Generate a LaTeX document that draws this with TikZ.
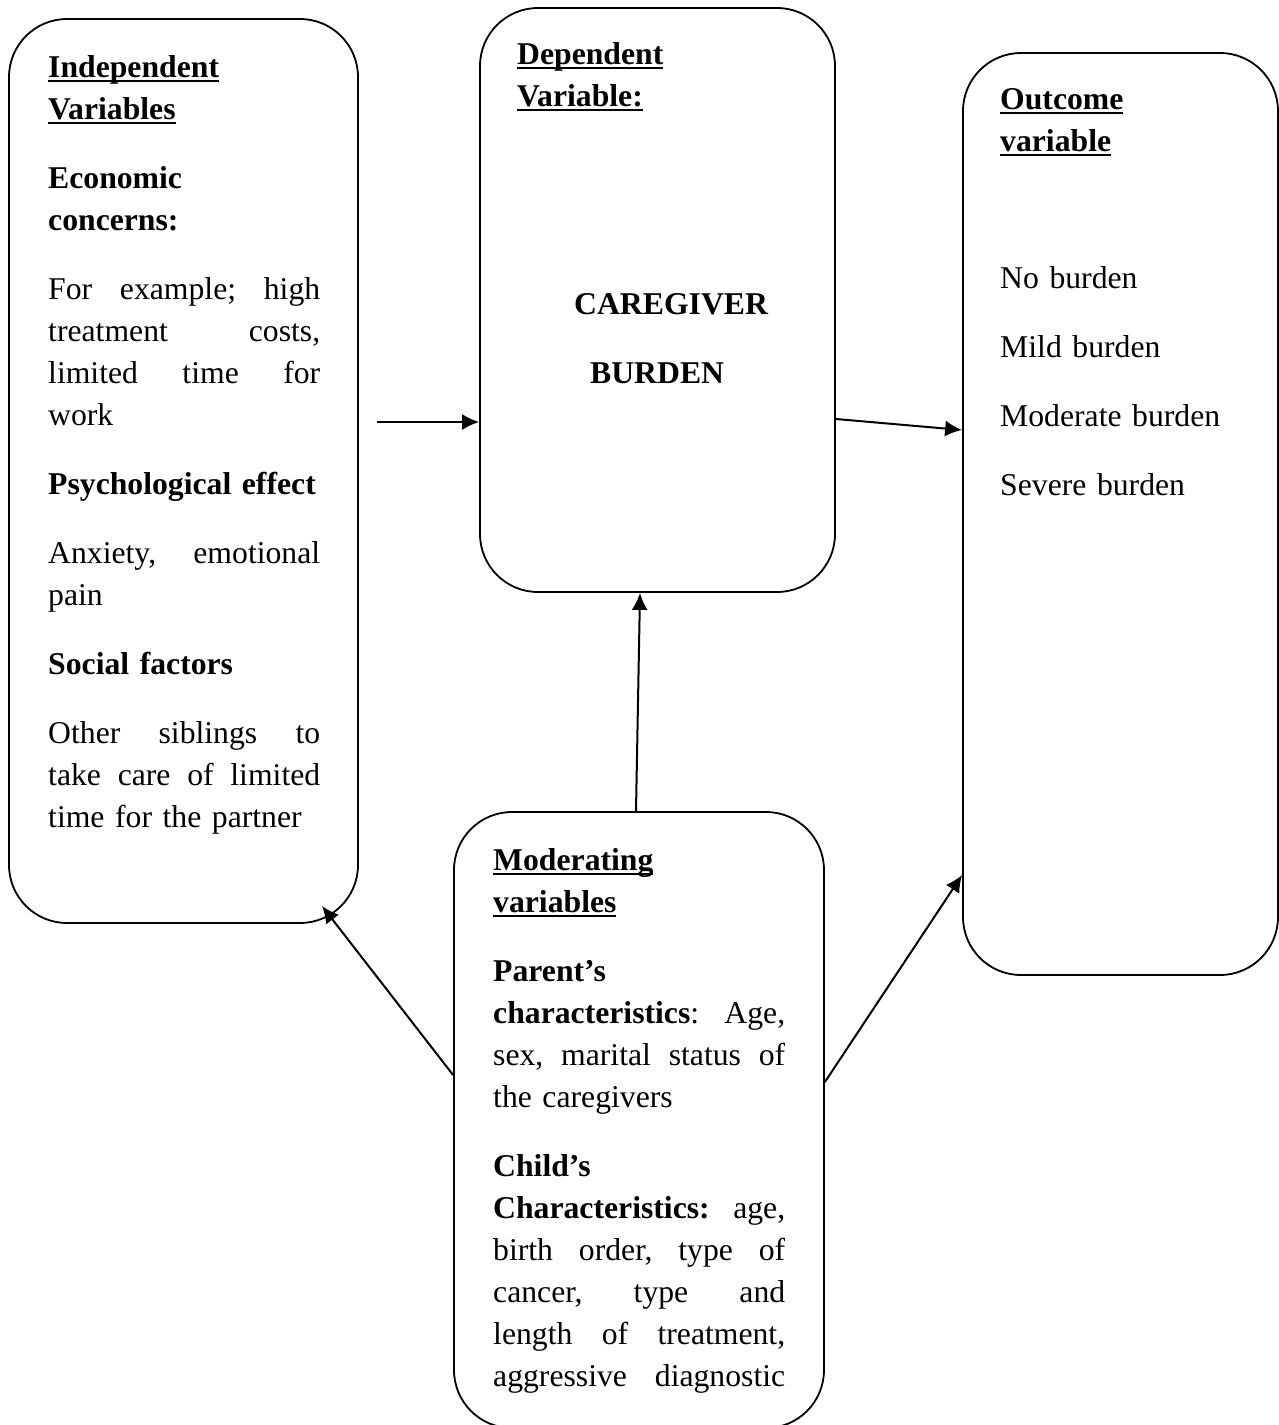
\documentclass[tikz,border=0pt]{standalone}
\usepackage{fontspec}
\setmainfont{Liberation Serif}
\usetikzlibrary{arrows.meta,calc}
\newcommand\uln[1]{\leavevmode\setbox0=\hbox{#1}\rlap{\rule[-5pt]{\wd0}{2.2pt}}\box0}
\newcommand\jl[2]{\leavevmode\makebox[#1][s]{#2}}
\tikzset{
  box/.style={draw=black, line width=1.8pt, rounded corners=58pt, inner sep=0pt},
  txt/.style={inner sep=0pt, anchor=base west, align=left, font=\fontsize{31.7}{42}\selectfont},
  arr/.style={line width=2pt, -{Latex[length=17pt,width=16pt]}}
}
\begin{document}
\begin{tikzpicture}[x=1pt,y=-1pt]
\useasboundingbox (0,0) rectangle (1279,1425);
% boxes
\node[box, minimum width=349pt, minimum height=904pt] (A) at (183.5,471) {};
\node[box, minimum width=355pt, minimum height=584pt] (B) at (657.5,300) {};
\node[box, minimum width=315pt, minimum height=922pt] (C) at (1120.5,514) {};
\node[box, minimum width=370pt, minimum height=616pt] (D) at (639,1120) {};
% texts
\node[txt, text width=272pt] (Atxt) at (48,77) {%
\uln{\textbf{Independent}}\\
\uln{\textbf{Variables}}\\[27pt]
\textbf{Economic}\\
\textbf{concerns:}\\[27pt]
\jl{272pt}{For\hfill example;\hfill high}\\
\jl{272pt}{treatment\hfill costs,}\\
\jl{272pt}{limited\hfill time\hfill for}\\
work\\[27pt]
\textbf{Psychological effect}\\[27pt]
\jl{272pt}{Anxiety,\hfill emotional}\\
pain\\[27pt]
\textbf{Social factors}\\[27pt]
\jl{272pt}{Other\hfill siblings\hfill to}\\
\jl{272pt}{take\hfill care\hfill of\hfill limited}\\
time for the partner};
\node[txt, text width=260pt] (Btitle) at (517,64) {%
\uln{\textbf{Dependent}}\\
\uln{\textbf{Variable:}}};
\node[txt, text width=240pt] (Bmain) at (574,314) {%
\textbf{CAREGIVER}\\[27pt]
\hspace*{16pt}\textbf{BURDEN}};
\node[txt, text width=260pt] (Ctitle) at (1000,109) {%
\uln{\textbf{Outcome}}\\
\uln{\textbf{variable}}};
\node[txt, text width=270pt] (Citems) at (1000,288) {%
No burden\\[27pt]
Mild burden\\[27pt]
Moderate burden\\[27pt]
Severe burden};
\node[txt, text width=292pt] (Dtxt) at (493,870) {%
\uln{\textbf{Moderating}}\\
\uln{\textbf{variables}}\\[27pt]
\textbf{Parent’s}\\
\jl{292pt}{\textbf{characteristics}:\hfill Age,}\\
\jl{292pt}{sex,\hfill marital\hfill status\hfill of}\\
the caregivers\\[27pt]
\textbf{Child’s}\\
\jl{292pt}{\textbf{Characteristics:}\hfill age,}\\
\jl{292pt}{birth\hfill order,\hfill type\hfill of}\\
\jl{292pt}{cancer,\hfill type\hfill and}\\
\jl{292pt}{length\hfill of\hfill treatment,}\\
\jl{292pt}{aggressive\hfill diagnostic}};
% connectors
\coordinate (ab) at (377,422);
\coordinate (da) at (322,906);
\draw[arr] (ab) -- (ab -| B.west);
\draw[arr] (B.east |- 0,419) -- (C.west |- 0,430);
\draw[arr] (D.north -| 636,0) -- (B.south -| 640,0);
\draw[arr] (D.west |- 0,1075) -- (da);
\draw[arr] (D.east |- 0,1082) -- (C.west |- 0,875);
\end{tikzpicture}
\end{document}
